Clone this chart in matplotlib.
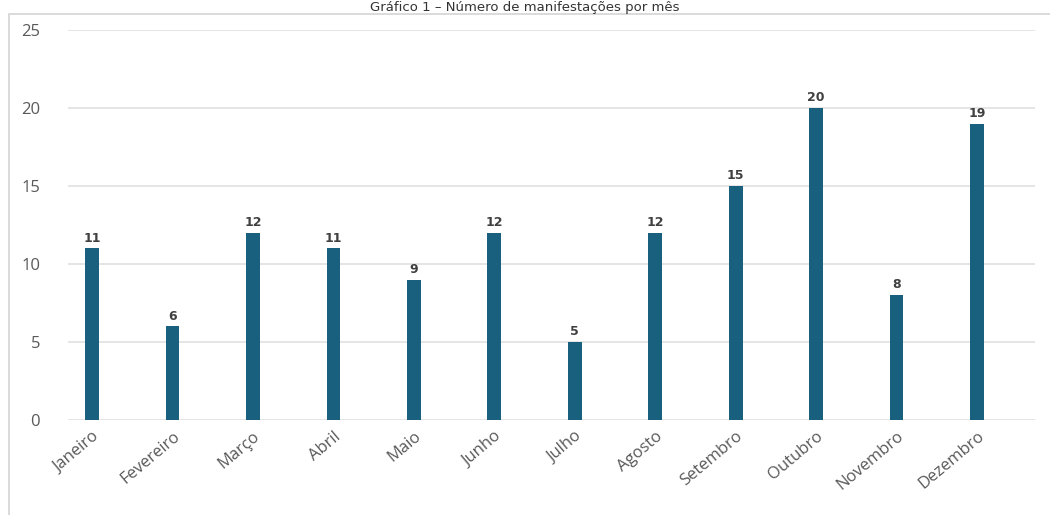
import matplotlib.pyplot as plt
from matplotlib.patches import Rectangle

meses = ['Janeiro', 'Fevereiro', 'Março', 'Abril', 'Maio', 'Junho',
         'Julho', 'Agosto', 'Setembro', 'Outubro', 'Novembro', 'Dezembro']
manifestacoes = [11, 6, 12, 11, 9, 12, 5, 12, 15, 20, 8, 19]
yticks = [0, 5, 10, 15, 20, 25]

fig = plt.figure(figsize=(10.5, 5.15), dpi=100)
fig.patch.set_facecolor('white')

# moldura cinza clara (cortada na borda)
fig.patches.append(Rectangle((9 / 1050, -0.2), 1.2, 1.2 - 14 / 515,
                             transform=fig.transFigure, fill=False,
                             edgecolor='#d4d4d4', linewidth=1.2, zorder=0))

# titulo no topo
fig.text(0.5, 1 - 1 / 515, 'Gráfico 1 – Número de manifestações por mês',
         ha='center', va='top', fontsize=9.5, color='#333333',
         family='DejaVu Sans')

ax = fig.add_axes([68 / 1050, 1 - 420 / 515, 967 / 1050, 390 / 515])
x = list(range(len(meses)))
ax.bar(x, manifestacoes, width=0.17, color='#19607e', zorder=3)

for xi, v in zip(x, manifestacoes):
    ax.text(xi, v + 0.25, str(v), ha='center', va='bottom', fontsize=9,
            fontweight='bold', color='#404040', family='DejaVu Sans')

ax.set_ylim(0, 25)
ax.set_xlim(-0.298, 11.72)
ax.set_yticks(yticks)
ax.yaxis.grid(True, color='#e0e0e0', linewidth=1.2, zorder=0)
ax.set_axisbelow(True)
for s in ax.spines.values():
    s.set_visible(False)
ax.tick_params(axis='y', length=0, pad=20, labelsize=12, labelcolor='#595959')
ax.tick_params(axis='x', length=0, pad=6, labelsize=12, labelcolor='#595959')
ax.set_xticks(x)
ax.set_xticklabels(meses, rotation=40, ha='right', rotation_mode='anchor',
                   family='Open Sans')
for lbl in ax.get_yticklabels():
    lbl.set_family('Open Sans')

fig.savefig('out.png', dpi=100)
